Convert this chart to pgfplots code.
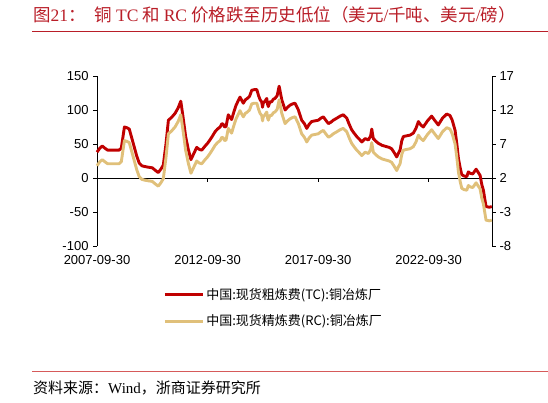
\documentclass[border=0pt]{standalone}
\usepackage{pgfplots}
\pgfplotsset{compat=1.18}
\usepackage{pgfplotstable}
\usepackage{fontspec}
\setmainfont{Liberation Sans}
\newfontfamily\cjk{Noto Sans CJK SC}
\newfontfamily\serif{Liberation Serif}
\definecolor{tcred}{RGB}{192,0,0}
\definecolor{rctan}{RGB}{224,192,122}
\definecolor{titlered}{RGB}{185,30,40}
\definecolor{srcred}{RGB}{214,90,90}
\pgfplotstableread{
x y
2007.75 38
2007.88 44
2007.99 47
2008.10 44
2008.23 41
2008.50 41
2008.75 41
2008.85 44
2008.99 75
2009.10 74
2009.21 72
2009.33 58
2009.44 45
2009.55 32
2009.66 22
2009.78 18
2009.89 17
2010.05 16
2010.25 15
2010.40 11
2010.52 8
2010.64 13
2010.75 19
2010.87 50
2010.98 85
2011.12 89
2011.28 95
2011.42 103
2011.54 113
2011.65 88
2011.76 61
2011.88 42
2012.00 27
2012.13 36
2012.26 45
2012.38 42
2012.49 41
2012.64 47
2012.75 51
2012.86 56
2012.98 62
2013.09 68
2013.20 72
2013.32 75
2013.40 80
2013.46 79
2013.52 75
2013.59 76
2013.69 93
2013.77 89
2013.84 86
2013.94 97
2014.04 107
2014.13 113
2014.22 119
2014.30 114
2014.37 110
2014.46 115
2014.55 117
2014.65 120
2014.75 129
2014.87 130
2014.98 130
2015.06 121
2015.13 115
2015.20 112
2015.24 104
2015.27 110
2015.35 113
2015.43 117
2015.47 108
2015.50 105
2015.57 112
2015.65 112
2015.73 116
2015.80 117
2015.90 121
2015.99 135
2016.11 115
2016.26 100
2016.37 104
2016.48 107
2016.60 109
2016.71 110
2016.86 100
2017.01 85
2017.13 80
2017.24 73
2017.35 79
2017.46 83
2017.60 84
2017.76 85
2017.88 88
2017.99 90
2018.10 85
2018.22 80
2018.33 82
2018.44 85
2018.60 88
2018.75 91
2018.89 93
2019.05 88
2019.16 79
2019.27 71
2019.38 66
2019.50 61
2019.62 57
2019.73 53
2019.88 58
2020.03 56
2020.13 62
2020.18 72
2020.25 58
2020.37 54
2020.48 51
2020.65 48
2020.86 46
2020.97 45
2021.08 43
2021.20 37
2021.31 31
2021.38 36
2021.46 41
2021.54 55
2021.61 61
2021.75 62
2021.91 63
2022.06 66
2022.18 73
2022.29 83
2022.40 78
2022.51 75
2022.70 84
2022.89 91
2023.00 86
2023.19 78
2023.38 88
2023.57 94
2023.72 92
2023.82 85
2023.95 70
2024.03 50
2024.10 29
2024.18 15
2024.25 5
2024.35 3
2024.48 2
2024.55 9
2024.63 7
2024.75 6
2024.90 13
2025.00 8
2025.08 4
2025.16 -10
2025.23 -18
2025.30 -32
2025.35 -42
2025.50 -43
2025.61 -42
}\tcdata
\pgfplotstableread{
x y
2007.75 3.8
2007.88 4.4
2007.99 4.7
2008.10 4.4
2008.23 4.1
2008.50 4.1
2008.75 4.1
2008.85 4.4
2008.99 7.5
2009.10 7.4
2009.21 7.2
2009.33 5.8
2009.44 4.5
2009.55 3.2
2009.66 2.2
2009.78 1.8
2009.89 1.7
2010.05 1.6
2010.25 1.5
2010.40 1.1
2010.52 0.8
2010.64 1.3
2010.75 1.9
2010.87 5.0
2010.98 8.5
2011.12 8.9
2011.28 9.5
2011.42 10.3
2011.54 11.3
2011.65 8.8
2011.76 6.1
2011.88 4.2
2012.00 2.7
2012.13 3.6
2012.26 4.5
2012.38 4.2
2012.49 4.1
2012.64 4.7
2012.75 5.1
2012.86 5.6
2012.98 6.2
2013.09 6.8
2013.20 7.2
2013.32 7.5
2013.40 8.0
2013.46 7.9
2013.52 7.5
2013.59 7.6
2013.69 9.3
2013.77 8.9
2013.84 8.6
2013.94 9.7
2014.04 10.7
2014.13 11.3
2014.22 11.9
2014.30 11.4
2014.37 11.0
2014.46 11.5
2014.55 11.7
2014.65 12.0
2014.75 12.9
2014.87 13.0
2014.98 13.0
2015.06 12.1
2015.13 11.5
2015.20 11.2
2015.24 10.4
2015.27 11.0
2015.35 11.3
2015.43 11.7
2015.47 10.8
2015.50 10.5
2015.57 11.2
2015.65 11.2
2015.73 11.6
2015.80 11.7
2015.90 12.1
2015.99 13.5
2016.11 11.5
2016.26 10.0
2016.37 10.4
2016.48 10.7
2016.60 10.9
2016.71 11.0
2016.86 10.0
2017.01 8.5
2017.13 8.0
2017.24 7.3
2017.35 7.9
2017.46 8.3
2017.60 8.4
2017.76 8.5
2017.88 8.8
2017.99 9.0
2018.10 8.5
2018.22 8.0
2018.33 8.2
2018.44 8.5
2018.60 8.8
2018.75 9.1
2018.89 9.3
2019.05 8.8
2019.16 7.9
2019.27 7.1
2019.38 6.6
2019.50 6.1
2019.62 5.7
2019.73 5.3
2019.88 5.8
2020.03 5.6
2020.13 6.2
2020.18 7.2
2020.25 5.8
2020.37 5.4
2020.48 5.1
2020.65 4.8
2020.86 4.6
2020.97 4.5
2021.08 4.3
2021.20 3.7
2021.31 3.1
2021.38 3.6
2021.46 4.1
2021.54 5.5
2021.61 6.1
2021.75 6.2
2021.91 6.3
2022.06 6.6
2022.18 7.3
2022.29 8.3
2022.40 7.8
2022.51 7.5
2022.70 8.4
2022.89 9.1
2023.00 8.6
2023.19 7.8
2023.38 8.8
2023.57 9.4
2023.72 9.2
2023.82 8.5
2023.95 7.0
2024.03 5.0
2024.10 2.9
2024.18 1.5
2024.25 0.5
2024.35 0.3
2024.48 0.2
2024.55 0.9
2024.63 0.7
2024.75 0.6
2024.90 1.3
2025.00 0.8
2025.08 0.4
2025.16 -1.0
2025.23 -1.8
2025.30 -3.2
2025.35 -4.2
2025.50 -4.3
2025.61 -4.2
}\rcdata
\begin{document}
\begin{tikzpicture}
\useasboundingbox (0bp,0bp) rectangle (548bp,-403bp);
\pgfplotsset{
  base/.style={
    scale only axis, width=395bp, height=170bp,
    at={(97bp,-246bp)}, anchor=south west,
    xmin=2007.75, xmax=2025.62,
    tick label style={font=\fontsize{13bp}{15bp}\selectfont},
    /pgf/number format/assume math mode=true,
    axis line style={black, line width=0.8bp},
    major tick length=4bp,
    tick style={black, line width=0.8bp},
    clip=false,
  }
}
\begin{axis}[base,
  axis y line*=left, axis x line*=bottom,
  x axis line style={draw=none},
  ymin=-100, ymax=150, ytick={-100,-50,0,50,100,150},
  y tick style={black, line width=0.8bp}, yticklabel style={xshift=-1bp},
  tick align=outside,
  xtick={2007.75,2012.75,2017.75,2022.75},
  xticklabels={2007-09-30,2012-09-30,2017-09-30,2022-09-30},
  x tick style={draw=none},
  xticklabel style={yshift=-2bp},
]
\addplot[black, line width=0.8bp] coordinates {(2007.75,0) (2025.62,0)};
\draw[black, line width=0.8bp] (axis cs:2012.75,0) -- ++(0bp,-4bp);
\draw[black, line width=0.8bp] (axis cs:2017.75,0) -- ++(0bp,-4bp);
\draw[black, line width=0.8bp] (axis cs:2022.75,0) -- ++(0bp,-4bp);
\addplot[tcred, line width=2.9bp, line join=round] table[x=x,y=y] {\tcdata};
\end{axis}
\begin{axis}[base,
  axis y line*=right, axis x line=none,
  ymin=-8, ymax=17, ytick={-8,-3,2,7,12,17},
  tick align=outside,
  legend style={at={(0.16,-0.225)}, anchor=north west, draw=none, fill=none,
    font=\cjk\fontsize{13bp}{15bp}\selectfont, row sep=10bp,
    legend cell align=left},
  legend image code/.code={\draw[#1] (0bp,0bp) -- (38bp,0bp);},
]
\addlegendimage{tcred, line width=2.9bp}
\addlegendentry{中国:现货粗炼费(TC):铜冶炼厂}
\addplot[rctan, line width=2.9bp, line join=round] table[x=x,y=y] {\rcdata};
\addlegendentry{中国:现货精炼费(RC):铜冶炼厂}
\end{axis}
\node[anchor=west, text=titlered, font=\cjk\fontsize{17.5bp}{19bp}\selectfont, inner sep=0pt] at (33bp,-15bp)
  {图{\serif 21}：\hspace{9bp}铜 {\serif TC} 和 {\serif RC} 价格跌至历史低位（美元{\serif /}千吨、美元{\serif /}磅）};
\draw[titlered, line width=0.8bp] (32bp,-31bp) -- (548bp,-31bp);
\draw[srcred, line width=0.8bp] (32bp,-371bp) -- (548bp,-371bp);
\node[anchor=west, font=\cjk\fontsize{15bp}{17bp}\selectfont, inner sep=0pt] at (33bp,-388bp)
  {资料来源：{\serif Wind}，浙商证券研究所};
\end{tikzpicture}
\end{document}
